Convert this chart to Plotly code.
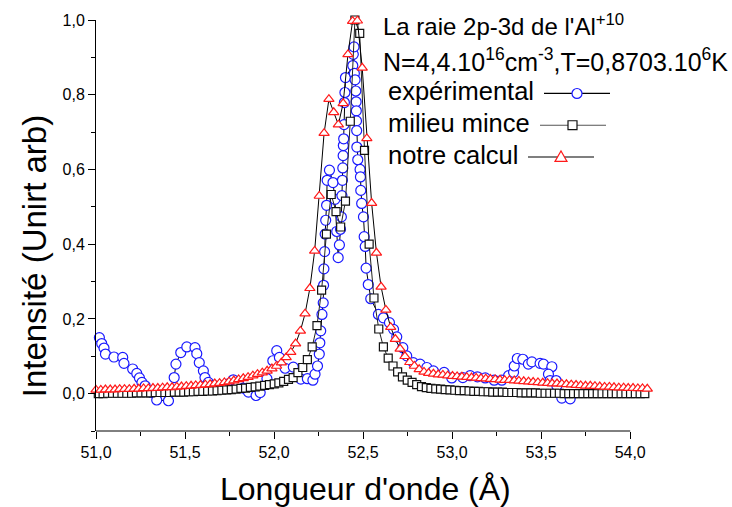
import plotly.graph_objects as go

# ---------------- data ----------------
x_calc = [51.000, 51.027, 51.053, 51.080, 51.107, 51.133, 51.160, 51.187, 51.214, 51.240,
          51.267, 51.294, 51.320, 51.347, 51.374, 51.400, 51.427, 51.454, 51.480, 51.507,
          51.534, 51.560, 51.587, 51.614, 51.641, 51.667, 51.694, 51.721, 51.747, 51.774,
          51.801, 51.827, 51.854, 51.881, 51.907, 51.934, 51.961, 51.988, 52.014, 52.041,
          52.068, 52.094, 52.121, 52.148, 52.174, 52.201, 52.228, 52.254, 52.281, 52.308,
          52.335, 52.361, 52.388, 52.415, 52.441, 52.468, 52.495, 52.521, 52.548, 52.575,
          52.601, 52.628, 52.655, 52.681, 52.708, 52.735, 52.762, 52.788, 52.815, 52.842,
          52.868, 52.895, 52.922, 52.948, 52.975, 53.002, 53.028, 53.055, 53.082, 53.109,
          53.135, 53.162, 53.189, 53.215, 53.242, 53.269, 53.295, 53.322, 53.349, 53.375,
          53.402, 53.429, 53.455, 53.482, 53.509, 53.536, 53.562, 53.589, 53.616, 53.642,
          53.669, 53.696, 53.722, 53.749, 53.776, 53.802, 53.829, 53.856, 53.883, 53.909,
          53.936, 53.963, 53.989, 54.016, 54.043, 54.069, 54.096]
y_calc = [0.010, 0.010, 0.011, 0.011, 0.011, 0.012, 0.012, 0.012, 0.013, 0.013,
          0.014, 0.014, 0.015, 0.015, 0.016, 0.017, 0.017, 0.018, 0.019, 0.020,
          0.021, 0.022, 0.023, 0.024, 0.025, 0.027, 0.028, 0.030, 0.032, 0.035,
          0.038, 0.041, 0.044, 0.048, 0.052, 0.056, 0.061, 0.067, 0.074, 0.083,
          0.097, 0.111, 0.134, 0.168, 0.214, 0.282, 0.382, 0.529, 0.697, 0.788,
          0.753, 0.720, 0.777, 0.908, 0.997, 0.998, 0.872, 0.683, 0.510, 0.377,
          0.286, 0.224, 0.178, 0.146, 0.120, 0.100, 0.084, 0.074, 0.065, 0.058,
          0.055, 0.053, 0.051, 0.050, 0.048, 0.047, 0.046, 0.045, 0.044, 0.043,
          0.042, 0.041, 0.040, 0.039, 0.038, 0.037, 0.036, 0.036, 0.035, 0.034,
          0.033, 0.032, 0.031, 0.030, 0.029, 0.028, 0.027, 0.027, 0.026, 0.025,
          0.024, 0.023, 0.022, 0.021, 0.021, 0.020, 0.019, 0.018, 0.018, 0.017,
          0.016, 0.016, 0.015, 0.015, 0.014, 0.014, 0.013]

x_mince = [51.013, 51.040, 51.066, 51.093, 51.120, 51.146, 51.173, 51.200, 51.227, 51.253,
           51.280, 51.307, 51.333, 51.360, 51.387, 51.413, 51.440, 51.467, 51.493, 51.520,
           51.547, 51.573, 51.600, 51.627, 51.654, 51.680, 51.707, 51.734, 51.760, 51.787,
           51.814, 51.840, 51.867, 51.894, 51.920, 51.947, 51.974, 52.001, 52.027, 52.054,
           52.081, 52.107, 52.134, 52.161, 52.187, 52.214, 52.241, 52.267, 52.294, 52.321,
           52.348, 52.374, 52.401, 52.428, 52.454, 52.481, 52.508, 52.534, 52.561, 52.588,
           52.614, 52.641, 52.668, 52.694, 52.721, 52.748, 52.775, 52.801, 52.828, 52.855,
           52.881, 52.908, 52.935, 52.961, 52.988, 53.015, 53.041, 53.068, 53.095, 53.122,
           53.148, 53.175, 53.202, 53.228, 53.255, 53.282, 53.308, 53.335, 53.362, 53.388,
           53.415, 53.442, 53.468, 53.495, 53.522, 53.549, 53.575, 53.602, 53.629, 53.655,
           53.682, 53.709, 53.735, 53.762, 53.789, 53.815, 53.842, 53.869, 53.896, 53.922,
           53.949, 53.976, 54.002, 54.029, 54.056, 54.082]
y_mince = [0.000, 0.000, 0.001, 0.001, 0.001, 0.001, 0.001, 0.001, 0.002, 0.002,
           0.002, 0.002, 0.003, 0.003, 0.003, 0.003, 0.004, 0.004, 0.004, 0.005,
           0.005, 0.006, 0.006, 0.007, 0.007, 0.008, 0.009, 0.010, 0.011, 0.012,
           0.014, 0.015, 0.017, 0.018, 0.020, 0.022, 0.024, 0.026, 0.029, 0.033,
           0.038, 0.043, 0.056, 0.070, 0.091, 0.125, 0.182, 0.277, 0.427, 0.533,
           0.487, 0.446, 0.515, 0.729, 1.000, 0.964, 0.651, 0.400, 0.256, 0.173,
           0.125, 0.095, 0.074, 0.058, 0.045, 0.036, 0.030, 0.024, 0.019, 0.016,
           0.014, 0.013, 0.012, 0.011, 0.010, 0.009, 0.008, 0.008, 0.007, 0.006,
           0.006, 0.005, 0.005, 0.004, 0.004, 0.004, 0.003, 0.003, 0.003, 0.002,
           0.002, 0.002, 0.002, 0.001, 0.001, 0.001, 0.001, 0.001, 0.000, 0.000,
           0.000, 0.000, 0.000, 0.000, 0.000, 0.000, 0.000, 0.000, 0.000, 0.000,
           0.000, 0.000, 0.000, 0.000, 0.000, 0.000]

x_exp = [51.019, 51.032, 51.045, 51.053, 51.101, 51.150, 51.157, 51.206, 51.229, 51.244,
         51.258, 51.276, 51.313, 51.341, 51.407, 51.439, 51.449, 51.476, 51.510, 51.556,
         51.566, 51.580, 51.603, 51.612, 51.631, 51.660, 51.702, 51.743, 51.771, 51.800,
         51.826, 51.856, 51.899, 51.922, 51.960, 51.993, 52.015, 52.030, 52.062, 52.108,
         52.150, 52.187, 52.218, 52.230, 52.244, 52.254, 52.257, 52.262, 52.269, 52.276,
         52.278, 52.280, 52.284, 52.287, 52.290, 52.295, 52.298, 52.311, 52.331, 52.342,
         52.352, 52.360, 52.367, 52.373, 52.378, 52.381, 52.384, 52.386, 52.388, 52.389,
         52.391, 52.393, 52.395, 52.398, 52.401, 52.442, 52.445, 52.449, 52.451, 52.455,
         52.459, 52.461, 52.462, 52.463, 52.464, 52.465, 52.470, 52.483, 52.485, 52.487,
         52.492, 52.502, 52.506, 52.512, 52.517, 52.529, 52.543, 52.586, 52.614, 52.648,
         52.671, 52.689, 52.723, 52.745, 52.782, 52.820, 52.858, 52.895, 52.955, 52.998,
         53.060, 53.101, 53.142, 53.186, 53.236, 53.279, 53.317, 53.345, 53.349, 53.366,
         53.397, 53.428, 53.448, 53.494, 53.513, 53.560, 53.541, 53.550, 53.584, 53.588,
         53.616, 53.663]
y_exp = [0.150, 0.134, 0.122, 0.106, 0.098, 0.097, 0.081, 0.066, 0.054, 0.042,
         0.030, 0.021, 0.003, -0.017, -0.019, 0.043, 0.079, 0.110, 0.125, 0.123,
         0.107, 0.083, 0.061, 0.043, 0.030, 0.022, 0.020, 0.026, 0.037, 0.028,
         0.015, 0.004, -0.005, 0.003, 0.040, 0.088, 0.115, 0.097, 0.068, 0.071,
         0.039, 0.040, 0.036, 0.052, 0.074, 0.106, 0.136, 0.168, 0.212, 0.243,
         0.290, 0.334, 0.380, 0.427, 0.464, 0.504, 0.571, 0.598, 0.565, 0.520,
         0.434, 0.364, 0.398, 0.440, 0.473, 0.530, 0.571, 0.604, 0.637, 0.664,
         0.682, 0.720, 0.779, 0.806, 0.846, 0.878, 0.908, 0.928, 0.857, 0.840,
         0.810, 0.781, 0.757, 0.730, 0.704, 0.660, 0.626, 0.600, 0.580, 0.544,
         0.509, 0.473, 0.420, 0.394, 0.336, 0.292, 0.254, 0.212, 0.203, 0.190,
         0.172, 0.152, 0.123, 0.101, 0.083, 0.079, 0.070, 0.061, 0.057, 0.042,
         0.043, 0.048, 0.045, 0.042, 0.036, 0.036, 0.048, 0.057, 0.074, 0.094,
         0.092, 0.079, 0.085, 0.081, 0.079, 0.072, 0.052, 0.035, 0.035, 0.021,
         -0.012, -0.014]

x_ticks = [51.0, 51.5, 52.0, 52.5, 53.0, 53.5, 54.0]
x_minor = [51.25, 51.75, 52.25, 52.75, 53.25, 53.75]
y_ticks = [0.0, 0.2, 0.4, 0.6, 0.8, 1.0]

series_names = ["expérimental", "milieu mince", "notre calcul"]
title_lines = ["La raie 2p-3d de l'Al<sup>+10</sup>",
               "N=4,4.10<sup>16</sup>cm<sup>-3</sup>,T=0,8703.10<sup>6</sup>K"]

# ---------------- layout geometry (pixels) ----------------
W, H = 732, 507
L, R, T, B = 96, 84, 17, 76
PW, PH = W - L - R, H - T - B
FONT = "Liberation Sans, Arial, Helvetica, sans-serif"


def px(xp):
    return (xp - L) / PW


def py(yp):
    return (H - B - yp) / PH


fig = go.Figure()

fig.add_trace(go.Scatter(
    x=x_exp, y=y_exp, mode="lines+markers", name=series_names[0],
    line=dict(color="black", width=1),
    marker=dict(symbol="circle", size=10, color="white",
                line=dict(color="#1a1aff", width=1.2)),
    cliponaxis=False, showlegend=False))
fig.add_trace(go.Scatter(
    x=x_mince, y=y_mince, mode="lines+markers", name=series_names[1],
    line=dict(color="#222222", width=1),
    marker=dict(symbol="square", size=8, color="white",
                line=dict(color="#111111", width=1.2)),
    cliponaxis=False, showlegend=False))
fig.add_trace(go.Scatter(
    x=x_calc, y=y_calc, mode="lines+markers", name=series_names[2],
    line=dict(color="black", width=1),
    marker=dict(symbol="triangle-up", size=9, color="white",
                line=dict(color="#ff1a1a", width=1.2)),
    cliponaxis=False, showlegend=False))

tick_font = dict(family=FONT, size=16, color="black")

# x axis: the scale runs a little beyond 54,0 (data continue there) but the
# drawn axis line stops at the last labelled tick, as in the original.
fig.update_xaxes(range=[51, 54.1], tickvals=x_ticks, tickformat=".1f",
                 showgrid=False, zeroline=False, showline=False,
                 ticks="outside", ticklen=7, tickwidth=1, tickcolor="black",
                 tickfont=tick_font,
                 minor=dict(ticks="outside", ticklen=4, tickvals=x_minor,
                            tickcolor="black"))
fig.update_yaxes(range=[-0.1, 1.0], tickvals=y_ticks, tickformat=".1f",
                 showgrid=False, zeroline=False, showline=True, linecolor="black",
                 linewidth=1, ticks="outside", ticklen=7, tickwidth=1,
                 tickcolor="black", tickfont=tick_font,
                 minor=dict(ticks="outside", ticklen=4, dtick=0.1, tick0=0,
                            tickcolor="black"))

annotations = []
annotations.append(dict(text="Longueur d'onde (Å)", x=px(365), y=py(489),
                        xref="paper", yref="paper", showarrow=False,
                        font=dict(family=FONT, size=32, color="black"),
                        xanchor="center", yanchor="middle"))
annotations.append(dict(text="Intensité (Unirt arb)", x=px(34), y=py(255),
                        xref="paper", yref="paper", showarrow=False, textangle=-90,
                        font=dict(family=FONT, size=33, color="black"),
                        xanchor="center", yanchor="middle"))
for txt, yy, fs in zip(title_lines, [22, 57], [24, 25]):
    annotations.append(dict(text=txt, x=px(381), y=py(yy), xref="paper", yref="paper",
                            showarrow=False, xanchor="left", yanchor="middle",
                            font=dict(family=FONT, size=fs, color="black")))
for name, yy in zip(series_names, [89, 121, 153]):
    annotations.append(dict(text=name, x=px(386), y=py(yy), xref="paper", yref="paper",
                            showarrow=False, xanchor="left", yanchor="middle",
                            font=dict(family=FONT, size=25.5, color="black")))

shapes = []
# bottom axis line from 51,0 to 54,0
shapes.append(dict(type="line", xref="x", yref="paper", x0=x_ticks[0], x1=x_ticks[-1],
                   y0=0, y1=0, line=dict(color="black", width=1)))
leg_line_y = [91, 123, 155]
leg_lines = [(544, 610, "black"), (540, 606, "#555555"), (528, 594, "black")]
for (x0, x1, c), yy in zip(leg_lines, leg_line_y):
    shapes.append(dict(type="line", xref="paper", yref="paper",
                       x0=px(x0), x1=px(x1), y0=py(yy), y1=py(yy),
                       line=dict(color=c, width=1.2)))
cx, cy, r = 577, 91, 5
shapes.append(dict(type="circle", xref="paper", yref="paper",
                   x0=px(cx - r), x1=px(cx + r), y0=py(cy + r), y1=py(cy - r),
                   fillcolor="white", line=dict(color="#1a1aff", width=1.2)))
sx, sy, s = 572.5, 123, 4.5
shapes.append(dict(type="rect", xref="paper", yref="paper",
                   x0=px(sx - s), x1=px(sx + s), y0=py(sy + s), y1=py(sy - s),
                   fillcolor="white", line=dict(color="#111111", width=1.2)))
tx, ty = 561, 155
path = "M {:.5f} {:.5f} L {:.5f} {:.5f} L {:.5f} {:.5f} Z".format(
    px(tx - 6), py(ty + 4.5), px(tx + 6), py(ty + 4.5), px(tx), py(ty - 6))
shapes.append(dict(type="path", xref="paper", yref="paper", path=path,
                   fillcolor="white", line=dict(color="#ff1a1a", width=1.2)))

fig.update_layout(
    width=W, height=H,
    margin=dict(l=L, r=R, t=T, b=B, pad=0),
    paper_bgcolor="white", plot_bgcolor="white",
    separators=", ",
    showlegend=False,
    annotations=annotations,
    shapes=shapes,
    font=dict(family=FONT, color="black"),
)

fig.write_html("out.html")
